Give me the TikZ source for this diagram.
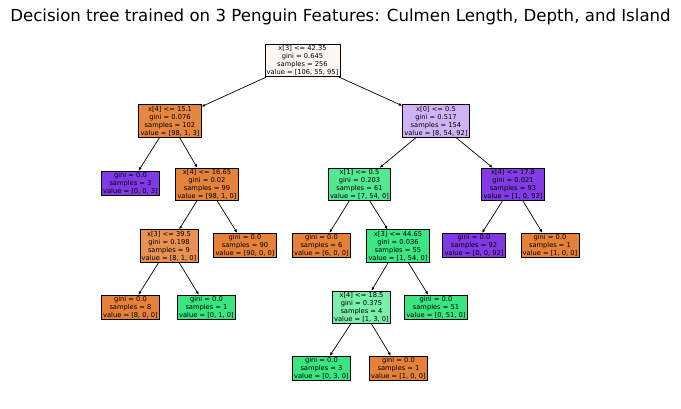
\documentclass[tikz,border=0pt]{standalone}
\usepackage{fontspec}
\setmainfont{DejaVu Sans}
\usetikzlibrary{arrows.meta}
\definecolor{TreeOrange}{RGB}{229,129,57}
\definecolor{TreeGreen}{RGB}{57,229,129}
\definecolor{TreePurple}{RGB}{129,57,229}
\tikzset{
  split/.style={draw=black,line width=0.9pt,inner xsep=1.6pt,inner ysep=1.2pt,align=center,
    font=\fontsize{6.7}{8}\selectfont},
  arr/.style={draw=black,line width=0.7pt,-{Latex[length=3.5pt,width=3pt]}},
}

\begin{document}
\begin{tikzpicture}[x=1pt,y=-1pt]
\useasboundingbox (0,0) rectangle (681,409);
\node[font=\fontsize{16.6}{19}\selectfont] (title) at (340.5,17) {Decision tree trained on 3 Penguin Features: Culmen Length, Depth, and Island};
% level 0
\node[split,fill=TreeOrange!7] (n0) at (302.5,60.5) {x[3] <= 42.35\\gini = 0.645\\samples = 256\\value = [106, 55, 95]};
% level 1
\node[split,fill=TreeOrange!96] (n1) at (170,121) {x[4] <= 15.1\\gini = 0.076\\samples = 102\\value = [98, 1, 3]};
\node[split,fill=TreePurple!38] (n2) at (436,121) {x[0] <= 0.5\\gini = 0.517\\samples = 154\\value = [8, 54, 92]};
% level 2
\node[split,fill=TreePurple] (n3) at (130.5,183.5) {gini = 0.0\\samples = 3\\value = [0, 0, 3]};
\node[split,fill=TreeOrange!99] (n4) at (207,184.5) {x[4] <= 16.65\\gini = 0.02\\samples = 99\\value = [98, 1, 0]};
\node[split,fill=TreeGreen!87] (n5) at (359.5,184.5) {x[1] <= 0.5\\gini = 0.203\\samples = 61\\value = [7, 54, 0]};
\node[split,fill=TreePurple!99] (n6) at (513,184.5) {x[4] <= 17.8\\gini = 0.021\\samples = 93\\value = [1, 0, 92]};
% level 3
\node[split,fill=TreeOrange!87] (n7) at (169,246) {x[3] <= 39.5\\gini = 0.198\\samples = 9\\value = [8, 1, 0]};
\node[split,fill=TreeOrange] (n8) at (245,245.5) {gini = 0.0\\samples = 90\\value = [90, 0, 0]};
\node[split,fill=TreeOrange] (n9) at (321.5,245.5) {gini = 0.0\\samples = 6\\value = [6, 0, 0]};
\node[split,fill=TreeGreen!98] (n10) at (398,246) {x[3] <= 44.65\\gini = 0.036\\samples = 55\\value = [1, 54, 0]};
\node[split,fill=TreePurple] (n11) at (474,245.5) {gini = 0.0\\samples = 92\\value = [0, 0, 92]};
\node[split,fill=TreeOrange] (n12) at (550,245.5) {gini = 0.0\\samples = 1\\value = [1, 0, 0]};
% level 4
\node[split,fill=TreeOrange] (n13) at (130.5,307.5) {gini = 0.0\\samples = 8\\value = [8, 0, 0]};
\node[split,fill=TreeGreen] (n14) at (206.5,307.5) {gini = 0.0\\samples = 1\\value = [0, 1, 0]};
\node[split,fill=TreeGreen!67] (n15) at (361.5,307.5) {x[4] <= 18.5\\gini = 0.375\\samples = 4\\value = [1, 3, 0]};
\node[split,fill=TreeGreen] (n16) at (436,307.5) {gini = 0.0\\samples = 51\\value = [0, 51, 0]};
% level 5
\node[split,fill=TreeGreen] (n17) at (321.5,368.5) {gini = 0.0\\samples = 3\\value = [0, 3, 0]};
\node[split,fill=TreeOrange] (n18) at (398.5,368.5) {gini = 0.0\\samples = 1\\value = [1, 0, 0]};
% edges
\draw[arr] (n0) -- (n1);
\draw[arr] (n0) -- (n2);
\draw[arr] (n1) -- (n3);
\draw[arr] (n1) -- (n4);
\draw[arr] (n2) -- (n5);
\draw[arr] (n2) -- (n6);
\draw[arr] (n4) -- (n7);
\draw[arr] (n4) -- (n8);
\draw[arr] (n5) -- (n9);
\draw[arr] (n5) -- (n10);
\draw[arr] (n6) -- (n11);
\draw[arr] (n6) -- (n12);
\draw[arr] (n7) -- (n13);
\draw[arr] (n7) -- (n14);
\draw[arr] (n10) -- (n15);
\draw[arr] (n10) -- (n16);
\draw[arr] (n15) -- (n17);
\draw[arr] (n15) -- (n18);
\end{tikzpicture}
\end{document}
